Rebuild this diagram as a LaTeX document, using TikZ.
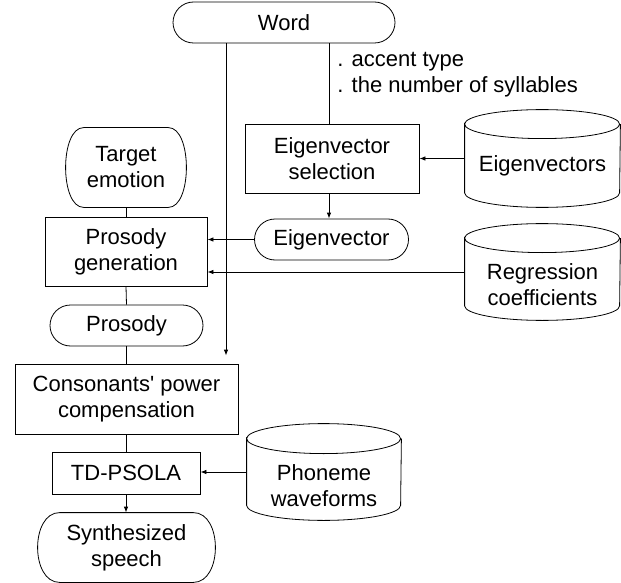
\documentclass[tikz,border=0pt]{standalone}
\usepackage{fontspec}
\setmainfont{Liberation Sans}
\usetikzlibrary{shapes.misc,arrows.meta}
\newcommand\drawcyl[3]{%
  \draw ([yshift=-#3pt]#1.north west) arc[start angle=180,delta angle=-360,x radius=#2pt,y radius=#3pt]
    -- ([yshift=#3pt]#1.south west) arc[start angle=180,end angle=360,x radius=#2pt,y radius=#3pt]
    -- ([yshift=-#3pt]#1.north east);}
\newcommand\drawtall[2]{%
  \draw ([xshift=#2pt]#1.north west) -- ([xshift=-#2pt]#1.north east)
    .. controls ([xshift=#2pt/3]#1.north east) and ([xshift=#2pt/3]#1.south east) .. ([xshift=-#2pt]#1.south east)
    -- ([xshift=#2pt]#1.south west)
    .. controls ([xshift=-#2pt/3]#1.south west) and ([xshift=-#2pt/3]#1.north west) .. cycle;}
\begin{document}
\begin{tikzpicture}[x=1pt,y=1pt,
  font=\fontsize{22}{26}\selectfont, line width=0.8pt,
  box/.style={draw, rectangle, align=center, inner sep=0pt},
  term/.style={draw, rounded rectangle, align=center, inner sep=0pt},
  tall/.style={rectangle, align=center, inner sep=0pt},
  cylarea/.style={rectangle, inner sep=0pt},
  cyltext/.style={align=center, inner sep=0pt},
  arr/.style={-{Latex[length=6pt,width=4.5pt]}}]
\useasboundingbox (0,0) rectangle (621,-583);

\node[term, minimum width=222, minimum height=41] (word) at (284,-22.5) {Word};
\node[box, minimum width=174, minimum height=69] (esel) at (332,-158.5) {Eigenvector\\selection};
\node[cylarea, minimum width=155, minimum height=97] (evs) at (542.5,-158.5) {};
\node[cyltext] (evsT) at (542.5,-166) {Eigenvectors};
\node[tall, minimum width=120, minimum height=79] (emo) at (126,-167.5) {Target\\emotion};
\node[box, minimum width=162, minimum height=69] (pg) at (126,-251.5) {Prosody\\generation};
\node[term, minimum width=154, minimum height=41] (ev) at (331.5,-239.5) {Eigenvector};
\node[cylarea, minimum width=155, minimum height=96] (reg) at (542.5,-272) {};
\node[cyltext] (regT) at (542.5,-285) {Regression\\coefficients};
\node[term, minimum width=153, minimum height=41] (pros) at (126.5,-325.5) {Prosody};
\node[box, minimum width=223, minimum height=70] (cons) at (126.5,-399) {Consonants\textquotesingle{} power\\compensation};
\node[box, minimum width=148, minimum height=42] (td) at (126,-473) {TD-PSOLA};
\node[cylarea, minimum width=154, minimum height=96] (ph) at (324,-472) {};
\node[cyltext] (phT) at (324,-486) {Phoneme\\waveforms};
\node[tall, minimum width=177, minimum height=69] (syn) at (126.5,-547.5) {Synthesized\\speech};
\node[anchor=west, align=left, inner sep=0pt] (lab) at (337,-75) {. accent type\\. the number of syllables};

\drawcyl{evs}{77.5}{14.5}
\drawcyl{reg}{77.5}{14.5}
\drawcyl{ph}{77}{15}
\drawtall{emo}{18}
\drawtall{syn}{22}

\coordinate (wl) at ([xshift=-58pt]word.south);
\coordinate (wr) at ([xshift=45pt]word.south);
\draw[arr] (wl) -- ([yshift=8pt]wl |- cons.north);
\draw (wr) -- (wr |- esel.north);
\draw[arr] (esel.south -| wr) -- (ev.north -| wr);
\draw[arr] (evs.west) -- (esel.east);
\draw (emo.south) -- (pg.north);
\draw[arr] (ev.west) -- (ev.west -| pg.east);
\draw[arr] (reg.west) -- (reg.west -| pg.east);
\draw (pg.south) -- (pros.north);
\draw (pros.south) -- (pros.south |- cons.north);
\draw (cons.south) -- (cons.south |- td.north);
\draw[arr] (ph.west) -- (ph.west -| td.east);
\draw[arr] (td.south) -- (td.south |- syn.north);
\end{tikzpicture}
\end{document}
